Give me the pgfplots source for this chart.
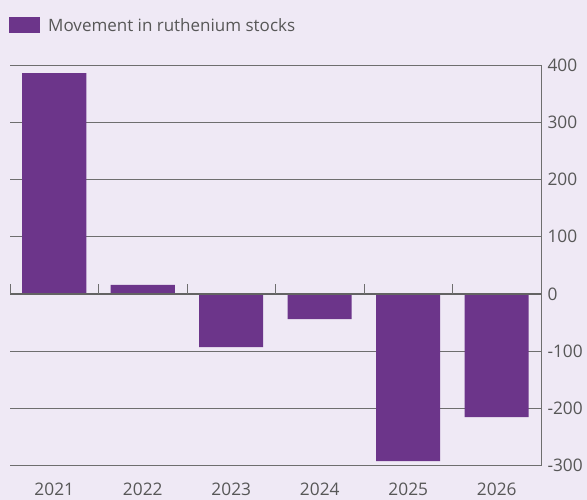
\documentclass[border=0pt]{standalone}
\usepackage{pgfplots}
\pgfplotsset{compat=1.18}
\usepackage{fontspec}
\setmainfont{Open Sans}
\definecolor{bg}{HTML}{EFE9F5}
\definecolor{barcol}{HTML}{6C358A}
\definecolor{txt}{HTML}{575757}
\definecolor{gridc}{HTML}{6E6E6E}
\begin{document}
\begin{tikzpicture}
\fill[bg] (0,0) rectangle (587bp,500bp);
\begin{axis}[
  at={(10bp,34.25bp)}, anchor=south west,
  scale only axis, width=531bp, height=400.75bp,
  xmin=-0.5, xmax=5.5, ymin=-300, ymax=400,
  axis x line*=bottom, axis y line*=right,
  axis line style={gridc, line width=0.8bp},
  xtick={0,1,2,3,4,5},
  xticklabels={2021,2022,2023,2024,2025,2026},
  ytick={-300,-200,-100,0,100,200,300,400},
  major tick length=0pt,
  ymajorgrids, grid style={gridc, line width=0.7bp},
  ticklabel style={font=\fontsize{17.3bp}{20bp}\selectfont, text=txt},
  yticklabel style={anchor=west, xshift=3bp},
  xticklabel style={yshift=-14bp},
  /pgf/number format/assume math mode=true,
  y tick label style={/pgf/number format/1000 sep={}},
  ybar, bar width=64bp,
  legend style={draw=none, fill=none, at={([xshift=-1bp,yshift=40bp]rel axis cs:0,1)}, anchor=west, inner sep=0pt,
    font=\fontsize{17bp}{20bp}\selectfont, text=txt, legend cell align=left},
  legend image code/.code={\fill[barcol] (0bp,-8bp) rectangle (31bp,8bp);},
]
\addplot[fill=barcol, draw=none, bar shift=0pt] coordinates {(0,386) (1,16) (2,-93) (3,-44) (4,-292) (5,-215)};
\addlegendentry{\hspace{6bp}\raisebox{-1.5bp}{Movement in ruthenium stocks}}
\draw[gridc!90!black, line width=1.2bp] (axis cs:-0.5,0) -- (axis cs:5.5,0);
\draw[gridc, line width=0.8bp] (axis cs:-0.5,0) -- (axis cs:-0.5,17);
\draw[gridc, line width=0.8bp] (axis cs:0.5,0) -- (axis cs:0.5,17);
\draw[gridc, line width=0.8bp] (axis cs:1.5,0) -- (axis cs:1.5,17);
\draw[gridc, line width=0.8bp] (axis cs:2.5,0) -- (axis cs:2.5,17);
\draw[gridc, line width=0.8bp] (axis cs:3.5,0) -- (axis cs:3.5,17);
\draw[gridc, line width=0.8bp] (axis cs:4.5,0) -- (axis cs:4.5,17);
\end{axis}
\pgfresetboundingbox
\useasboundingbox (0,0) rectangle (587bp,500bp);
\end{tikzpicture}
\end{document}
